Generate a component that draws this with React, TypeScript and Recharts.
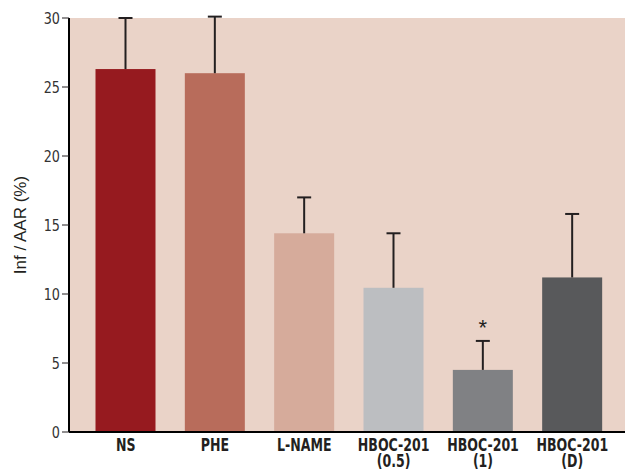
import React from 'react'
import { BarChart, Bar, XAxis, YAxis, CartesianGrid, Cell } from 'recharts'

const groups = ['NS', 'PHE', 'L-NAME', 'HBOC-201\n(0.5)', 'HBOC-201\n(1)', 'HBOC-201\n(D)']
const means = [26.3, 26.0, 14.4, 10.45, 4.5, 11.2]
const errs = [3.7, 4.1, 2.6, 3.95, 2.1, 4.6]
const marks = ['', '', '', '', '*', '']
const colors = ['#961a1f', '#b86c5b', '#d6ab9b', '#bcbec1', '#808184', '#58595b']
const yTicks = [0, 5, 10, 15, 20, 25, 30]

const data = groups.map((g, i) => ({ group: g, value: means[i], err: errs[i], mark: marks[i] }))

const narrow = '"DejaVu Sans", sans-serif'

function BarWithError(props: any) {
  const { x, y, width, height, fill, payload } = props
  const pxPerUnit = height / payload.value
  const cx = x + width / 2
  const top = y - payload.err * pxPerUnit
  return (
    <g>
      <rect x={x} y={y} width={width} height={height} fill={fill} />
      <line x1={cx} x2={cx} y1={y} y2={top} stroke="#231f20" strokeWidth={2} />
      <line x1={cx - 7} x2={cx + 7} y1={top} y2={top} stroke="#231f20" strokeWidth={2} />
      {payload.mark && (
        <text x={cx} y={top - 6} textAnchor="middle" fontSize={22} fill="#231f20" fontFamily="Liberation Sans, sans-serif">
          {payload.mark}
        </text>
      )}
    </g>
  )
}

function GroupTick({ x, y, payload }: any) {
  const lines = String(payload.value).split('\n')
  return (
    <g transform={`translate(${x},${y}) scale(0.74,1)`}>
      <text x={0} y={0} textAnchor="middle" fontSize={17} fontWeight="bold" fill="#231f20" fontFamily={narrow}>
        {lines.map((l, i) => (
          <tspan key={i} x={0} dy={i === 0 ? 11 : 16}>{l}</tspan>
        ))}
      </text>
    </g>
  )
}

function ValueTick({ x, y, payload }: any) {
  return (
    <g transform={`translate(${x},${y}) scale(0.8,1)`}>
      <text x={0} y={0} dy={5.5} textAnchor="end" fontSize={16} fill="#333" fontFamily={narrow}>
        {payload.value}
      </text>
    </g>
  )
}

export default function App() {
  return (
    <div style={{ position: 'absolute', left: 0, top: 0, background: '#fff' }}>
      <BarChart width={625} height={473} data={data} margin={{ top: 18, right: 0, left: 0, bottom: 0 }} barCategoryGap={14.5}>
        <CartesianGrid horizontal={false} vertical={false} fill="#ead3c8" />
        <XAxis
          dataKey="group"
          tick={<GroupTick />}
          tickLine={false}
          axisLine={{ stroke: '#000', strokeWidth: 2 }}
          interval={0}
          padding={{ left: 12, right: 8 }}
          height={41}
        />
        <YAxis
          domain={[0, 30]}
          ticks={yTicks}
          width={69}
          tickSize={7}
          tickLine={{ stroke: '#231f20', strokeWidth: 1 }}
          axisLine={{ stroke: '#000', strokeWidth: 2 }}
          tick={<ValueTick />}
          label={{
            value: 'Inf / AAR (%)',
            angle: -90,
            position: 'insideLeft',
            offset: 20,
            style: { textAnchor: 'middle', fill: '#231f20', fontSize: 17, fontFamily: 'Liberation Sans, Arial, sans-serif' },
          }}
        />
        <Bar dataKey="value" isAnimationActive={false} shape={<BarWithError />}>
          {data.map((d, i) => (
            <Cell key={d.group} fill={colors[i]} />
          ))}
        </Bar>
      </BarChart>
    </div>
  )
}
